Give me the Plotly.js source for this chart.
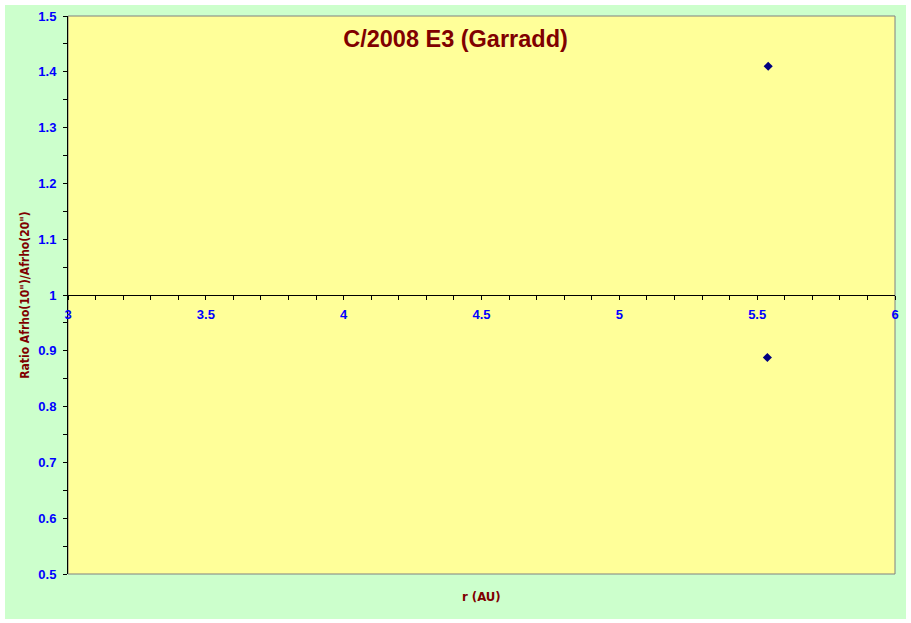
<!DOCTYPE html>
<html>
<head>
<meta charset="utf-8">
<script src="https://cdn.plot.ly/plotly-3.0.1.min.js"></script>
<style>
html,body{margin:0;padding:0;background:#ffffff;}
#chart{position:absolute;left:5px;top:5px;width:901px;height:614px;}
</style>
</head>
<body>
<div id="chart"></div>
<script>
// Data
const rAU = [5.540, 5.537];
const ratio = [1.410, 0.888];
const xTicks = [3, 3.5, 4, 4.5, 5, 5.5, 6];
const yTicks = [0.5, 0.6, 0.7, 0.8, 0.9, 1, 1.1, 1.2, 1.3, 1.4, 1.5];
const chartTitle = 'C/2008 E3 (Garradd)';
const xTitle = 'r (AU)';
const yTitle = 'Ratio Afrho(10")/Afrho(20")';

const dark = '#800000';
const tickFont = {family: 'Arial, "Liberation Sans", sans-serif', size: 13, color: '#0000ff', weight: 'bold'};

const trace = {
  x: rAU, y: ratio, type: 'scatter', mode: 'markers',
  marker: {symbol: 'diamond', size: 7, color: '#000080'},
  hoverinfo: 'x+y', showlegend: false
};

const layout = {
  width: 901, height: 614,
  paper_bgcolor: '#ccffcc', plot_bgcolor: '#ffff99',
  margin: {l: 63, r: 11, t: 11, b: 45, pad: 0},
  showlegend: false,
  title: {
    text: chartTitle, x: 0.5, xanchor: 'center', xref: 'container',
    y: 1 - 34/614, yanchor: 'middle', yref: 'container',
    font: {family: 'Arial, "Liberation Sans", sans-serif', size: 23.5, color: dark, weight: 'bold'}
  },
  xaxis: {
    range: [3, 6], tickvals: xTicks, ticktext: xTicks.map(String),
    anchor: 'free', position: 0.5, side: 'bottom',
    showgrid: false, zeroline: false,
    showline: true, linecolor: '#000000', linewidth: 1,
    ticks: 'outside', ticklen: 4, tickcolor: '#000000', tickwidth: 1,
    ticklabelstandoff: 3,
    minor: {dtick: 0.1, ticks: 'outside', ticklen: 4, tickcolor: '#000000', showgrid: false},
    tickfont: tickFont, fixedrange: true
  },
  yaxis: {
    range: [0.5, 1.5], tickvals: yTicks, ticktext: yTicks.map(v => String(v)),
    showgrid: false, zeroline: false,
    showline: true, linecolor: '#000000', linewidth: 1,
    ticks: 'outside', ticklen: 4, tickcolor: '#000000', tickwidth: 1,
    ticklabelstandoff: 4,
    minor: {dtick: 0.05, ticks: 'outside', ticklen: 4, tickcolor: '#000000', showgrid: false},
    tickfont: tickFont, fixedrange: true,
    title: {text: yTitle, standoff: 6,
      font: {family: '"Liberation Sans Narrow", "DejaVu Sans Condensed", Arial, sans-serif', size: 12, color: dark, weight: 'bold'}}
  },
  shapes: [
    {type: 'rect', xref: 'x domain', yref: 'y domain', x0: 0, x1: 1, y0: 0, y1: 1,
     line: {color: '#808080', width: 1}, fillcolor: 'rgba(0,0,0,0)', layer: 'below'}
  ],
  annotations: [
    {text: xTitle, xref: 'paper', yref: 'paper', x: 0.5, y: -0.040, xanchor: 'center', yanchor: 'middle',
     showarrow: false,
     font: {family: '"Liberation Sans Narrow", "DejaVu Sans Condensed", Arial, sans-serif', size: 13, color: dark, weight: 'bold'}}
  ]
};

Plotly.newPlot('chart', [trace], layout, {displayModeBar: false, staticPlot: true});
</script>
</body>
</html>
